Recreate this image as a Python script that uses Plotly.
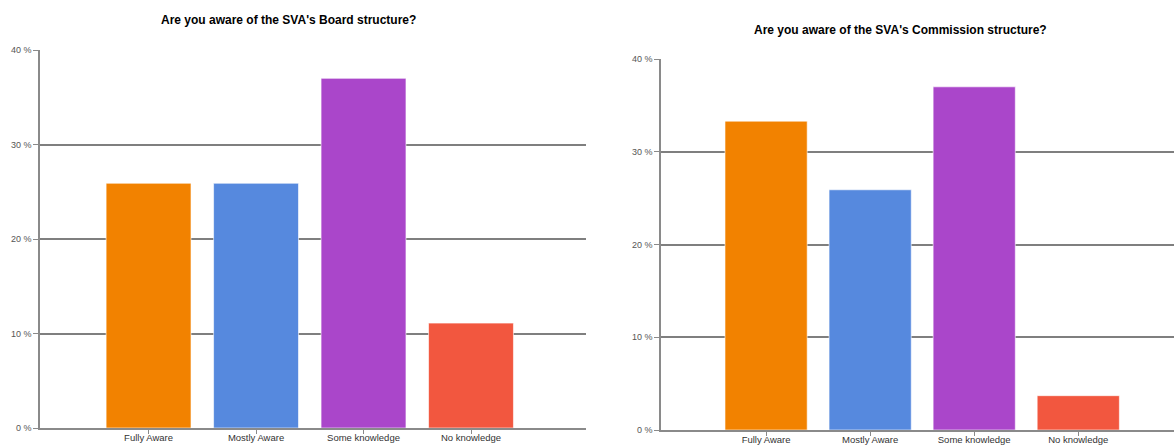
import plotly.graph_objects as go

categories = ["Fully Aware", "Mostly Aware", "Some knowledge", "No knowledge"]
board_values = [25.9, 25.9, 37.0, 11.1]
commission_values = [33.3, 25.9, 37.0, 3.7]
bar_colors = ["#F28200", "#5689DE", "#AA46CA", "#F2573F"]
titles = ["Are you aware of the SVA's Board structure?",
          "Are you aware of the SVA's Commission structure?"]
y_tickvals = [0, 10, 20, 30, 40]
y_ticktext = ["0 %", "10 %", "20 %", "30 %", "40 %"]

W, H = 1174, 445
FONT = "Arial, 'Liberation Sans', sans-serif"

fig = go.Figure()
fig.add_trace(go.Bar(x=categories, y=board_values, marker=dict(color=bar_colors,
                     line=dict(color="rgba(255,255,255,0.6)", width=1)),
                     width=0.79, xaxis="x", yaxis="y", showlegend=False, hoverinfo="x+y"))
fig.add_trace(go.Bar(x=categories, y=commission_values, marker=dict(color=bar_colors,
                     line=dict(color="rgba(255,255,255,0.6)", width=1)),
                     width=0.79, xaxis="x2", yaxis="y2", showlegend=False, hoverinfo="x+y"))

def xax(domain, rng, anchor):
    return dict(domain=domain, range=rng, anchor=anchor, type="category",
                showgrid=False, showline=True, linecolor="#8a8a8a", linewidth=1.5,
                ticks="outside", ticklen=4, tickcolor="#8a8a8a", tickwidth=1,
                ticklabelstandoff=-4,
                tickfont=dict(family=FONT, size=9.5, color="#333333"), zeroline=False,
                automargin=False, fixedrange=True)

def yax(domain, anchor):
    return dict(domain=domain, range=[0, 40], anchor=anchor,
                tickvals=y_tickvals, ticktext=y_ticktext,
                showgrid=True, gridcolor="#7f7f7f", gridwidth=1.5,
                showline=True, linecolor="#8a8a8a", linewidth=1.5,
                ticks="outside", ticklen=5, tickcolor="#8a8a8a", tickwidth=1,
                tickfont=dict(family=FONT, size=9, color="#555555"),
                zeroline=False, automargin=False, fixedrange=True)

fig.update_layout(
    width=W, height=H,
    margin=dict(l=0, r=0, t=0, b=0),
    paper_bgcolor="white", plot_bgcolor="white",
    xaxis=xax([40 / W, 586 / W], [-1.01, 4.07], "y"),
    yaxis=yax([17 / H, 395 / H], "x"),
    xaxis2=xax([661 / W, 1.0], [-1.01, 3.92], "y2"),
    yaxis2=yax([15 / H, 386 / H], "x2"),
    bargap=0.2,
    annotations=[
        dict(text="<b>" + titles[0] + "</b>", x=288 / W, y=(H - 20) / H, xref="paper", yref="paper",
             showarrow=False, xanchor="center", yanchor="middle",
             font=dict(family=FONT, size=12, color="#000000")),
        dict(text="<b>" + titles[1] + "</b>", x=900 / W, y=(H - 30) / H, xref="paper", yref="paper",
             showarrow=False, xanchor="center", yanchor="middle",
             font=dict(family=FONT, size=12, color="#000000")),
    ],
)

fig.write_html("out.html")
